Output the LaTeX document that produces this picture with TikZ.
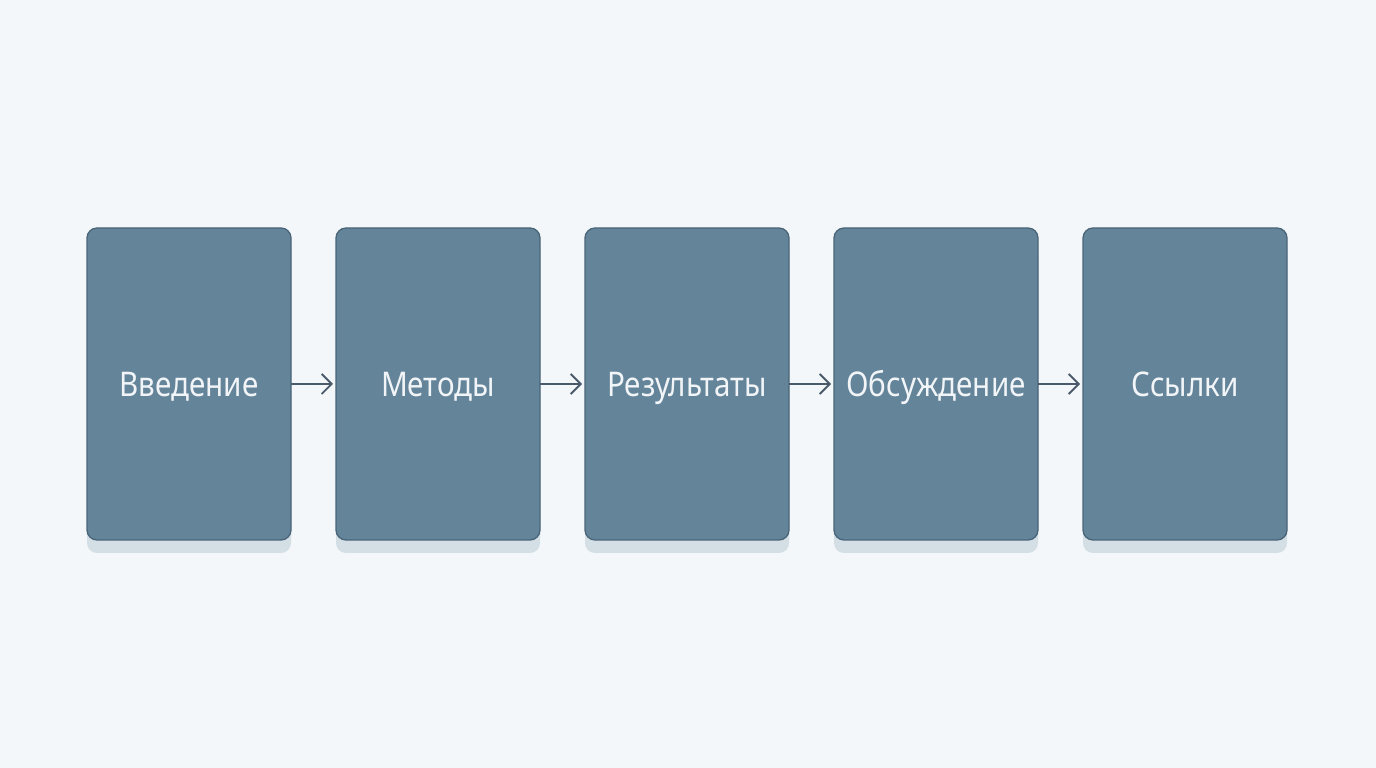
\documentclass[tikz,border=0pt]{standalone}
\usepackage{fontspec}
\setmainfont{Noto Sans}[FakeStretch=0.87]
\usetikzlibrary{positioning,arrows.meta}
\definecolor{bgcol}{HTML}{F3F7F9}
\definecolor{boxfill}{HTML}{64849A}
\definecolor{boxline}{HTML}{4A6478}
\definecolor{shadecol}{HTML}{D3DEE5}
\definecolor{arrowcol}{HTML}{4A5A6A}
\definecolor{txtcol}{HTML}{F2F5F8}
\tikzset{
  section/.style={draw=boxline,line width=1.3pt,fill=boxfill,rounded corners=10pt,
    minimum width=204pt,minimum height=312pt,inner sep=0pt,outer sep=0pt,text=txtcol,
    text height=24.5pt,text depth=0pt,font=\fontsize{34}{38}\selectfont},
  flow/.style={arrowcol,line width=1.8pt,-{Straight Barb[length=10pt,width=20pt,line width=1.8pt]},shorten >=3pt}
}
\begin{document}
\begin{tikzpicture}[x=1pt,y=1pt]
		\fill[bgcol] (0,0) rectangle (1376,768);
		\useasboundingbox (0,0) rectangle (1376,768);
		% Shadows
		\foreach \cx in {189,438,687,936,1185}
		\fill[shadecol,rounded corners=10pt] (\cx-102,215) rectangle (\cx+102,527);
		% Sections
		\node[section] (intro) at (189,384) {Введение};
		\node[section,right=45pt of intro] (methods) {Методы};
		\node[section,right=45pt of methods] (results) {Результаты};
		\node[section,right=45pt of results] (discuss) {Обсуждение};
		\node[section,right=45pt of discuss] (refs) {Ссылки};
		% Arrows
		\draw[flow] (intro.east) -- (methods.west);
		\draw[flow] (methods.east) -- (results.west);
		\draw[flow] (results.east) -- (discuss.west);
		\draw[flow] (discuss.east) -- (refs.west);
\end{tikzpicture}
\end{document}
